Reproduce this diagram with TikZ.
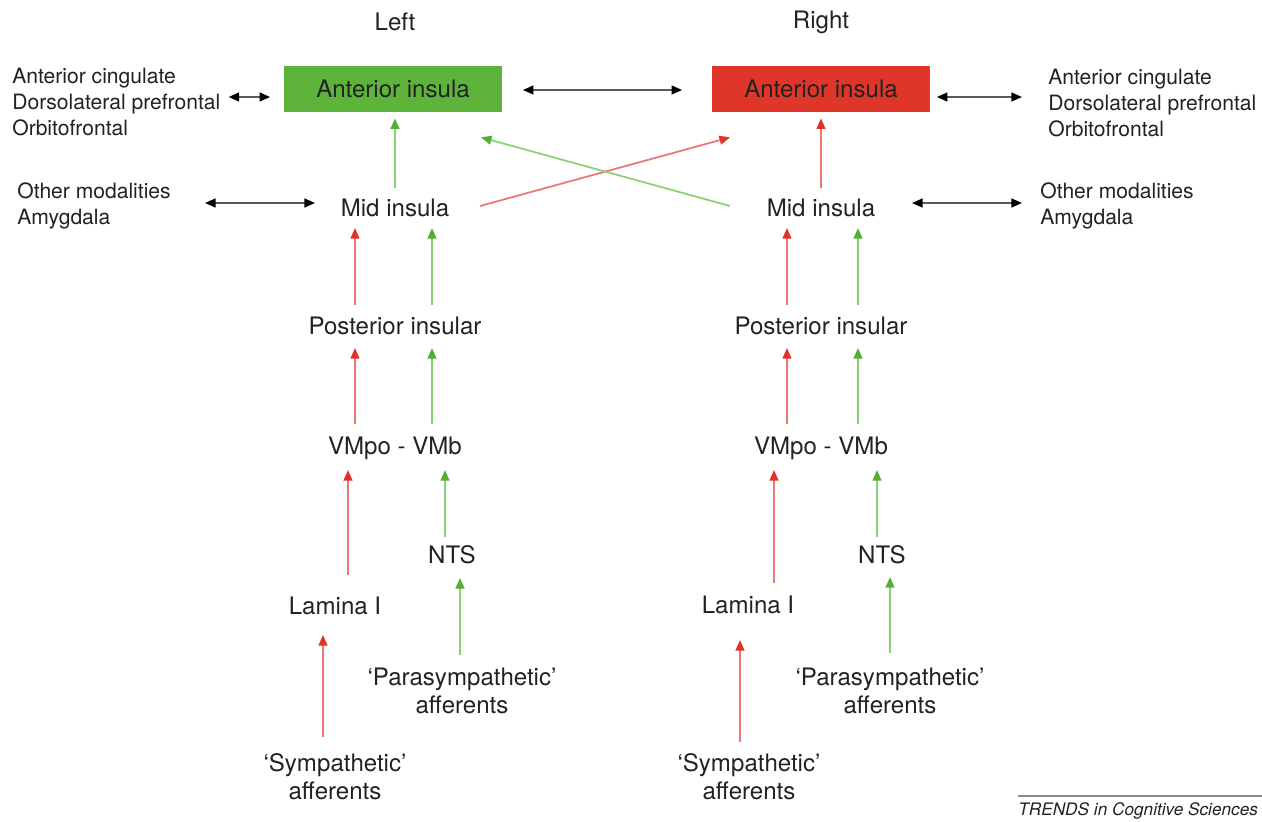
\documentclass[tikz,border=0pt]{standalone}
\usepackage{fontspec}
\setmainfont{TeX Gyre Heros}
\usetikzlibrary{arrows.meta,calc}
\definecolor{insgreen}{RGB}{94,180,58}
\definecolor{insred}{RGB}{224,54,42}
\definecolor{linered}{RGB}{236,118,118}
\definecolor{tipred}{RGB}{226,50,40}
\definecolor{linegreen}{RGB}{138,208,118}
\definecolor{tipgreen}{RGB}{82,176,52}
\definecolor{txt}{RGB}{34,34,34}

\begin{document}
\begin{tikzpicture}[x=0.02cm,y=-0.02cm,
  lbl/.style={font=\fontsize{13.7}{15.8}\selectfont,text=txt,align=center,inner sep=0pt},
  side/.style={font=\fontsize{12}{14.8}\selectfont,text=txt,align=left,inner sep=0pt,anchor=west},
  insbox/.style={lbl,minimum width=4.38cm,minimum height=0.92cm},
  redarr/.style={draw=linered,line width=1pt,-{Triangle[length=6pt,width=5pt,color=tipred]}},
  greenarr/.style={draw=linegreen,line width=1pt,-{Triangle[length=6pt,width=5pt,color=tipgreen]}},
  both/.style={draw=black!65,line width=1pt,{Triangle[length=6pt,width=5pt,color=black]}-{Triangle[length=6pt,width=5pt,color=black]}}]
\useasboundingbox (0,0) rectangle (1262,822);

\node [lbl] (left) at (395,22) {Left};
\node [lbl] (right) at (821,22) {Right};

\node [insbox,fill=insgreen] (antL) at (393,89) {Anterior insula};
\node [insbox,fill=insred] (antR) at (821,89) {Anterior insula};
\node [side] (cortL) at (12,102) {Anterior cingulate\\Dorsolateral prefrontal\\Orbitofrontal};
\node [side] (cortR) at (1048,103) {Anterior cingulate\\Dorsolateral prefrontal\\Orbitofrontal};

\node [side] (modL) at (17,206) {Other modalities\\Amygdala};
\node [side] (modR) at (1040,206) {Other modalities\\Amygdala};
\node [lbl] (midL) at (395,208) {Mid insula};
\node [lbl] (midR) at (821,208) {Mid insula};

\node [lbl] (postL) at (395,326) {Posterior insular};
\node [lbl] (postR) at (821,326) {Posterior insular};
\node [lbl] (vmL) at (395,448) {VMpo - VMb};
\node [lbl] (vmR) at (821,448) {VMpo - VMb};
\node [lbl] (ntsL) at (452,555) {NTS};
\node [lbl] (ntsR) at (882,555) {NTS};
\node [lbl] (lamL) at (335,606) {Lamina I};
\node [lbl] (lamR) at (748,605) {Lamina I};
\node [lbl] (paraL) at (462,691) {`Parasympathetic'\\afferents};
\node [lbl] (paraR) at (890,691) {`Parasympathetic'\\afferents};
\node [lbl] (sympL) at (335,777) {`Sympathetic'\\afferents};
\node [lbl] (sympR) at (749,777) {`Sympathetic'\\afferents};

\node [anchor=west,inner sep=0pt,text=txt,font=\fontsize{9.8}{12}\selectfont\itshape] (trends) at (1018,811) {TRENDS in Cognitive Sciences};
\draw [black!45,line width=1pt] (trends.north west) ++(0,-6) coordinate (rule) -- ++(260,0);

\draw [both] ($(cortL.east)+(8,-5)$) -- ($(antL.west)+(-13,8)$);
\draw [both] ($(antL.east)+(20,1)$) -- ($(antR.west)+(-29,1)$);
\draw [both] ($(antR.east)+(6,8)$) -- ($(cortR.west)+(-26,-6)$);
\draw [both] ($(midL)+(-190,-5)$) -- ($(midL)+(-80,-5)$);
\draw [both] ($(midR)+(91,-5)$) -- ($(midR)+(201,-5)$);

\draw [greenarr] ($(midL)+(0,-20)$) -- ($(antL.south)+(2,6)$);
\draw [redarr] ($(midR)+(0,-20)$) -- ($(antR.south)+(0,6)$);
\draw [redarr] ($(midL)+(85,-2)$) -- ($(antR.south)+(-91,25)$);
\draw [greenarr] ($(midR)+(-91,-2)$) -- ($(antL.south)+(88,25)$);

\draw [redarr] ($(postL)+(-40,-21)$) -- ($(midL)+(-40,20)$);
\draw [greenarr] ($(postL)+(37,-21)$) -- ($(midL)+(37,20)$);
\draw [redarr] ($(postR)+(-34,-21)$) -- ($(midR)+(-34,20)$);
\draw [greenarr] ($(postR)+(37,-21)$) -- ($(midR)+(37,20)$);

\draw [redarr] ($(vmL)+(-40,-24)$) -- ($(postL)+(-40,22)$);
\draw [greenarr] ($(vmL)+(37,-24)$) -- ($(postL)+(37,22)$);
\draw [redarr] ($(vmR)+(-34,-24)$) -- ($(postR)+(-34,22)$);
\draw [greenarr] ($(vmR)+(37,-24)$) -- ($(postR)+(37,22)$);

\draw [redarr] ($(lamL)+(13,-31)$) -- ($(vmL)+(-47,22)$);
\draw [greenarr] ($(ntsL)+(-7,-18)$) -- ($(vmL)+(50,22)$);
\draw [redarr] ($(lamR)+(26,-22)$) -- ($(vmR)+(-47,22)$);
\draw [greenarr] ($(ntsR)+(-5,-18)$) -- ($(vmR)+(56,22)$);

\draw [redarr] ($(sympL)+(-12,-40)$) -- ($(lamL)+(-12,29)$);
\draw [greenarr] ($(paraL)+(-2,-36)$) -- ($(ntsL)+(8,23)$);
\draw [redarr] ($(sympR)+(-9,-35)$) -- ($(lamR)+(-8,35)$);
\draw [greenarr] ($(paraR)+(0,-38)$) -- ($(ntsR)+(8,22)$);
\end{tikzpicture}
\end{document}
